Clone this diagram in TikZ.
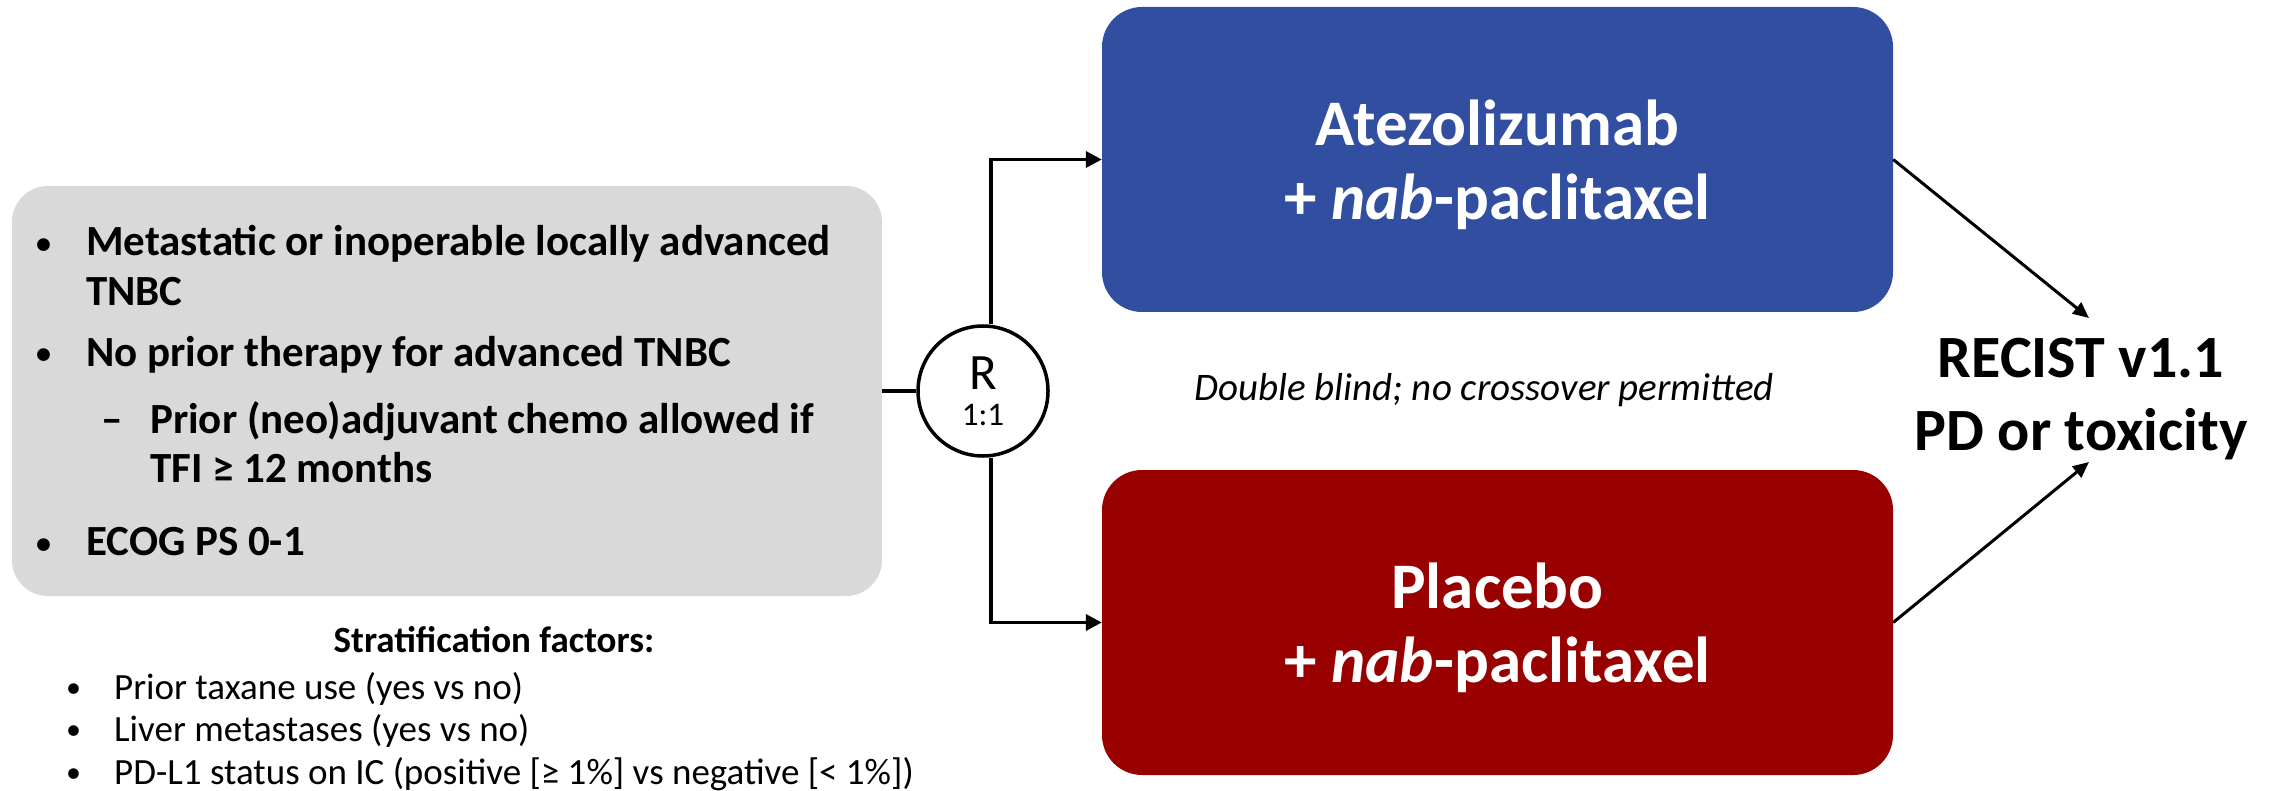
\documentclass[tikz,border=0pt]{standalone}
\usepackage{fontspec}
\setmainfont{Carlito}
\usetikzlibrary{arrows.meta}

\definecolor{armblue}{RGB}{49,78,160}
\definecolor{armred}{RGB}{153,0,0}
\definecolor{eligray}{RGB}{217,217,217}

\newcommand{\smallbullet}{\raisebox{2pt}{\fontsize{30}{30}\selectfont •}}

\tikzset{
  arm/.style={rounded corners=40pt, minimum width=791pt, minimum height=305pt,
    text=white, align=center, text depth=0pt, font=\fontsize{65}{74}\selectfont\bfseries},
  line/.style={line width=3.5pt},
  flow/.style={line width=3.5pt, -{Triangle[length=16pt,width=16pt]}},
  thin flow/.style={line width=3pt, -{Triangle[length=16pt,width=14pt]}},
  crit/.style={anchor=base west, inner sep=0pt, font=\fontsize{43}{51}\selectfont\bfseries},
  strat/.style={anchor=base west, inner sep=0pt, font=\fontsize{37}{43}\selectfont},
}

\begin{document}
\begin{tikzpicture}[x=1pt,y=-1pt]
  \useasboundingbox (0,0) rectangle (2274,791);

  % eligibility box
  \node[fill=eligray, rounded corners=36pt, minimum width=870pt, minimum height=410pt] (elig) at (447,391) {};
  \node[crit] (b1) at (36,255.5) {\smallbullet};
  \node[crit] (c1) at (86,255.5) {Metastatic or inoperable locally advanced};
  \node[crit] (c1b) at (86,306) {TNBC};
  \node[crit] (b2) at (36,366) {\smallbullet};
  \node[crit] (c2) at (86,366) {No prior therapy for advanced TNBC};
  \node[crit] (d2) at (101,433) {–};
  \node[crit] (c3) at (150,433) {Prior (neo)adjuvant chemo allowed if};
  \node[crit] (c3b) at (150,482) {TFI ≥ 12 months};
  \node[crit] (b4) at (36,555) {\smallbullet};
  \node[crit] (c4) at (86,555) {ECOG PS 0-1};

  % stratification
  \node[anchor=base, inner sep=0pt, font=\fontsize{37}{43}\selectfont\bfseries] (stratttl) at (494,652) {Stratification factors:};
  \node[strat] (sb1) at (66,699) {\smallbullet};
  \node[strat] (s1) at (114,699) {Prior taxane use (yes vs no)};
  \node[strat] (sb2) at (66,741.5) {\smallbullet};
  \node[strat] (s2) at (114,741.5) {Liver metastases (yes vs no)};
  \node[strat] (sb3) at (66,784) {\smallbullet};
  \node[strat] (s3) at (114,784) {PD-L1 status on IC (positive [≥ 1\%] vs negative [< 1\%])};

  % randomisation
  \node[draw, circle, line width=3.5pt, fill=white, minimum size=130pt, inner sep=0pt,
    align=center, font=\fontsize{33}{36}\selectfont] (rand) at (983,391)
    {{\fontsize{51}{36}\selectfont R}\\1:1};

  % arms
  \node[arm, fill=armblue] (atezo) at (1497.5,159.5) {Atezolizumab\\+ \textit{nab}-paclitaxel};
  \node[arm, fill=armred] (placebo) at (1497.5,622.5) {Placebo\\+ \textit{nab}-paclitaxel};
  \node[anchor=base, inner sep=0pt, font=\fontsize{39}{48}\selectfont\itshape] (blind) at (1484,400)
    {Double blind; no crossover permitted};

  % endpoint
  \node[align=center, inner sep=0pt, text depth=0pt, font=\fontsize{60}{73}\selectfont\bfseries] (recist) at (2081,394)
    {RECIST v1.1\\PD or toxicity};
  \coordinate (in1) at (2089,318);
  \coordinate (in2) at (2089,462);

  \draw[line] (elig.east) -- (rand.west);
  \draw[flow] ([xshift=8pt]rand.north) |- (atezo.west);
  \draw[flow] ([xshift=8pt]rand.south) |- (placebo.west);
  \draw[thin flow] (atezo.east) -- (in1);
  \draw[thin flow] (placebo.east) -- (in2);
\end{tikzpicture}
\end{document}
